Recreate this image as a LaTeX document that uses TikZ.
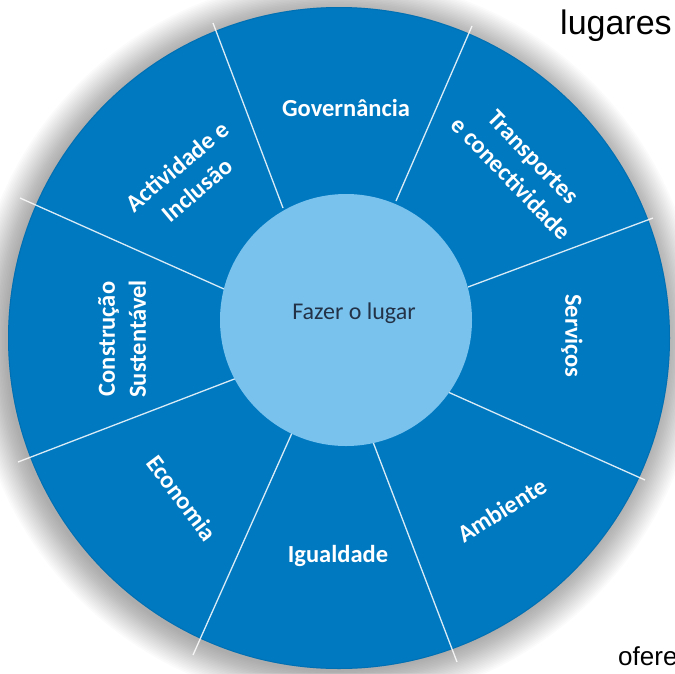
\documentclass[tikz,border=0pt]{standalone}
\usepackage{fontspec}
\setmainfont{Carlito}
\newfontfamily\arialfont{Liberation Sans}
\definecolor{wheelblue}{RGB}{0,121,193}
\definecolor{hubblue}{RGB}{122,194,238}
\definecolor{hubtext}{RGB}{35,50,70}
\begin{document}
\begin{tikzpicture}[x=1pt,y=-1pt,
  seglabel/.style={text=white,font=\fontsize{24.5}{31}\selectfont\bfseries,align=center,inner sep=0pt},
  spoke/.style={draw=white,draw opacity=0.85,line width=1.3pt},
  pagetext/.style={font=\arialfont,text=black,inner sep=0pt,anchor=base west}]
\useasboundingbox (0,0) rectangle (675,673);
\fill[white] (0,0) rectangle (675,673);
% soft shadow
\foreach \i in {1,...,22}{
  \fill[black,opacity=0.014] (336,341) circle[radius={(329+1.6*\i)*1pt}];
}
% wheel
\fill[wheelblue] (339,338) circle[radius=331pt];
\draw[wheelblue!80!black,opacity=0.35,line width=1pt] (339,338) circle[radius=330.5pt];
% spokes
\coordinate (i1) at (283,208); \coordinate (o1) at (213,23);
\coordinate (i2) at (224,289); \coordinate (o2) at (20,198);
\coordinate (i3) at (396,201); \coordinate (o3) at (472,26);
\coordinate (i4) at (468,287); \coordinate (o4) at (653,218);
\coordinate (i5) at (448,392); \coordinate (o5) at (645,480);
\coordinate (i6) at (373,442); \coordinate (o6) at (457,662);
\coordinate (i7) at (292,433); \coordinate (o7) at (193,655);
\coordinate (i8) at (237,378); \coordinate (o8) at (18,462);
\foreach \k in {1,...,8}{ \draw[spoke] (i\k) -- (o\k); }
% hub
\node[circle,fill=hubblue,minimum size=252pt,inner sep=0pt] (hub) at (346,320) {};
\node[text=hubtext,font=\fontsize{24}{29}\selectfont,inner sep=0pt] (hubtxt) at (354,313) {Fazer o lugar};
% labels
\node[seglabel] (gov) at (346,108) {Governância};
\node[seglabel,rotate=-46] (tra) at (522,168) {Transportes\\e conectividade};
\node[seglabel,rotate=-90] (ser) at (572,336) {Serviços};
\node[seglabel,rotate=32] (amb) at (502,510) {Ambiente};
\node[seglabel] (igu) at (338,556) {Igualdade};
\node[seglabel,rotate=-53] (eco) at (182,498) {Economia};
\node[seglabel,rotate=90] (con) at (122,339) {Construção\\Sustentável};
\node[seglabel,rotate=40] (act) at (187,178) {Actividade e\\Inclusão};
% page text fragments
\node[pagetext,font=\arialfont\fontsize{34}{40}\selectfont] (lug) at (560,34) {lugares};
\node[pagetext,font=\arialfont\fontsize{26}{31}\selectfont] (ofe) at (618,665) {ofere};
\end{tikzpicture}
\end{document}
